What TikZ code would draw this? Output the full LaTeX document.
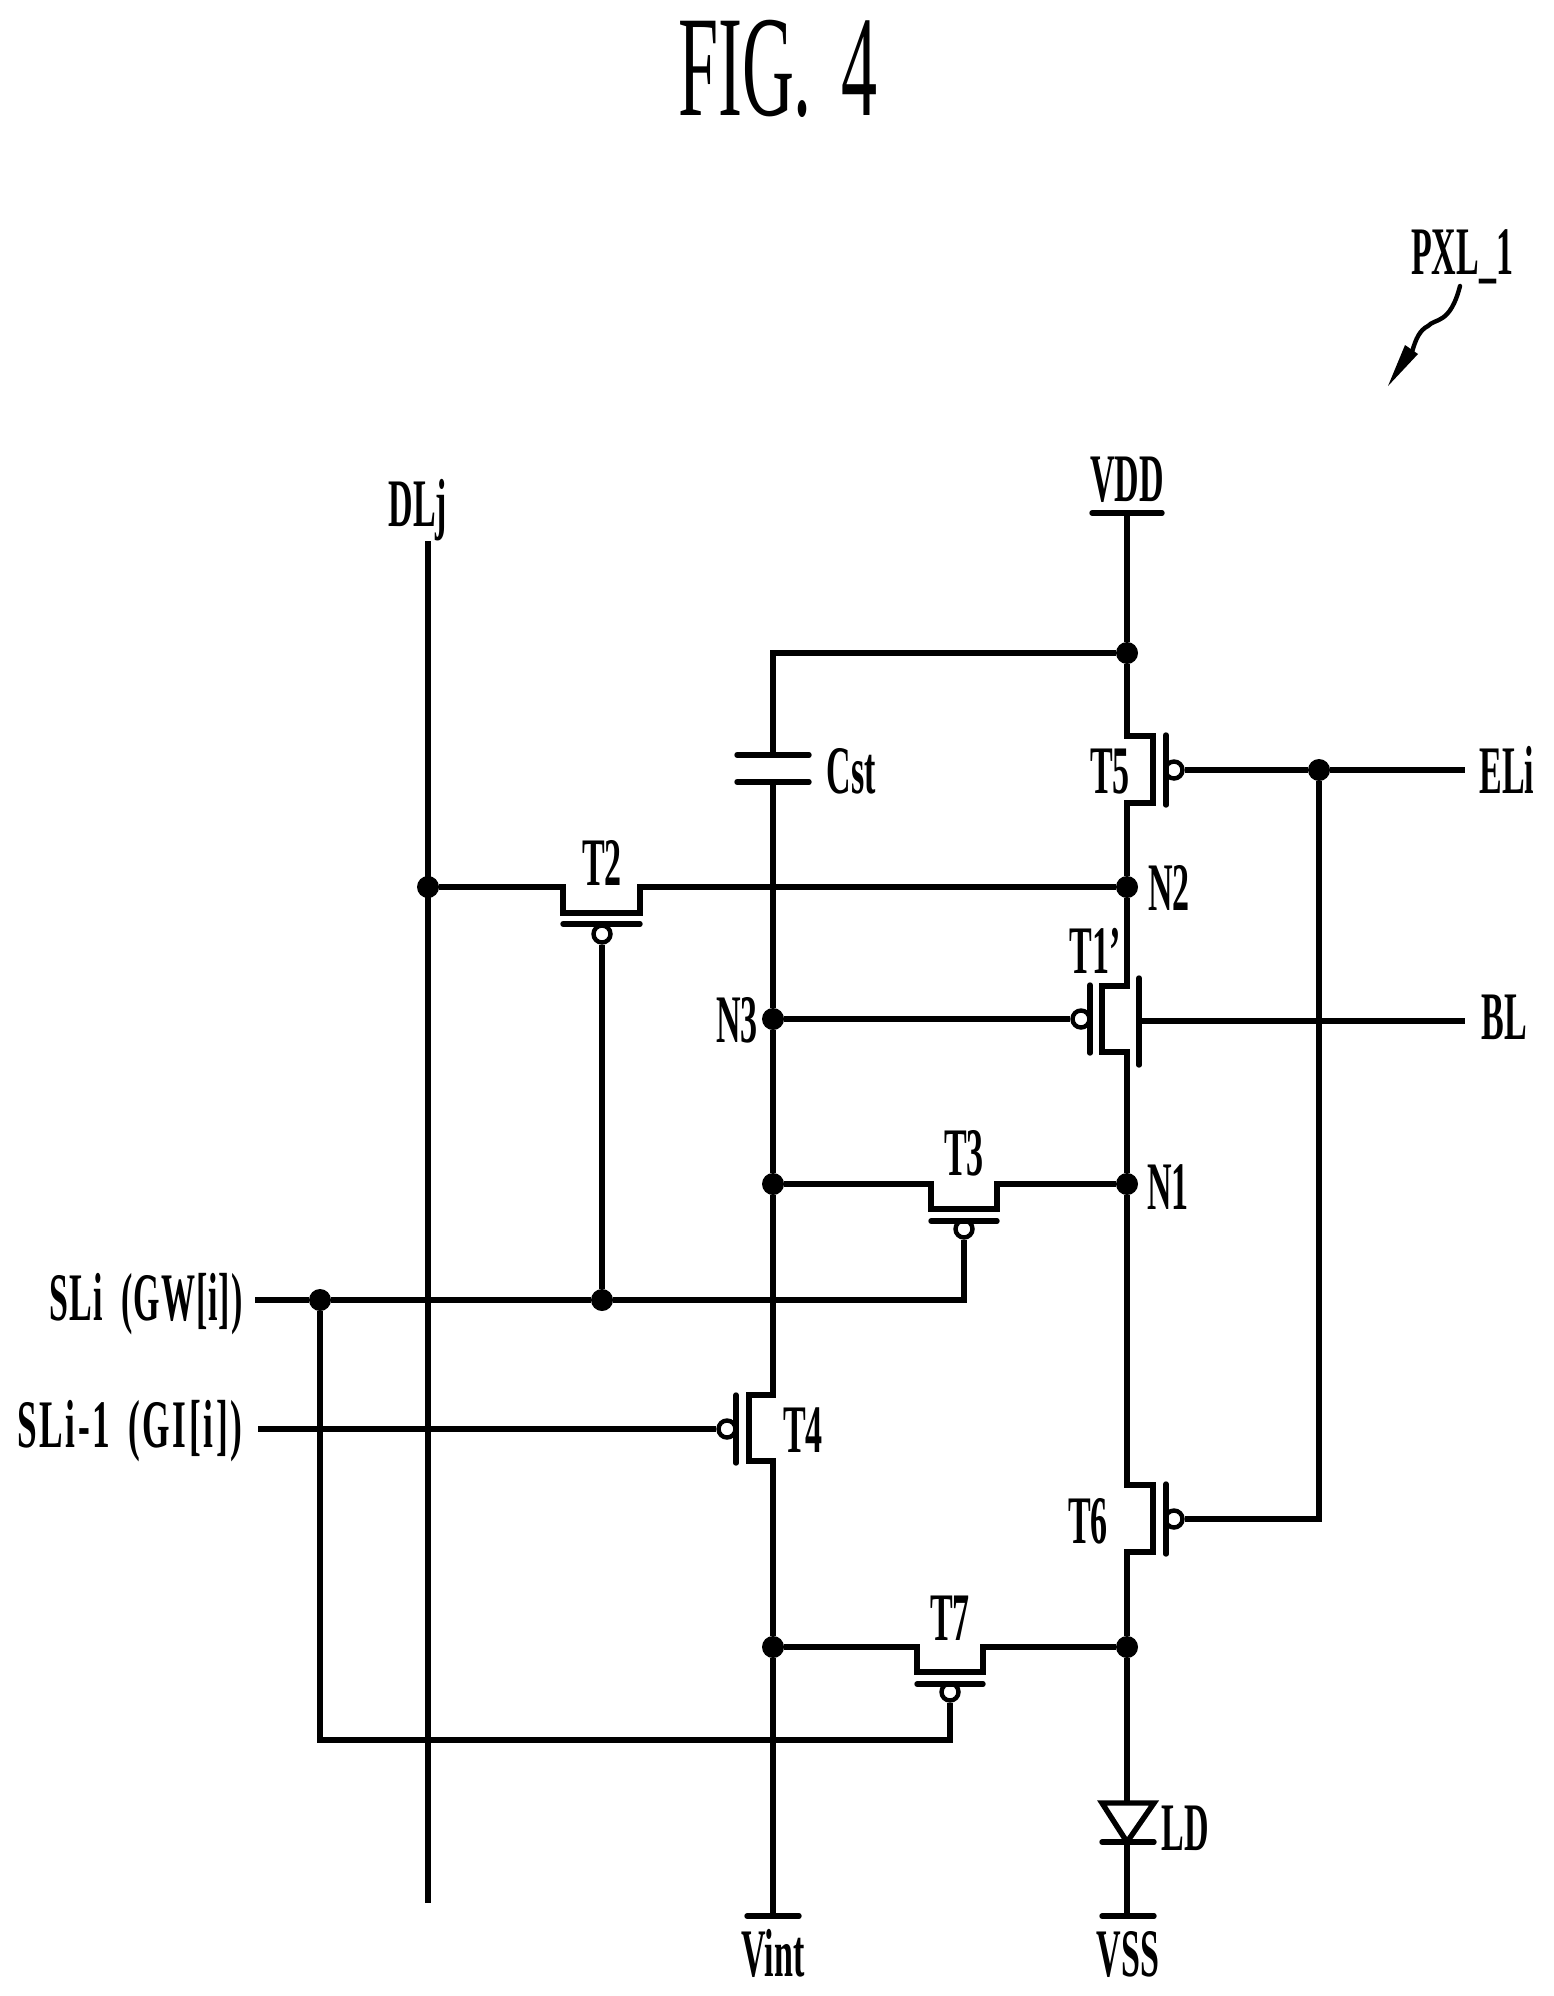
\documentclass[tikz,border=0pt]{standalone}
\usepackage{fontspec}
\newfontfamily\pat[FakeStretch=.5,Ligatures=TeX]{Liberation Serif}
\newfontfamily\patwide[FakeStretch=.52,LetterSpace=4,Ligatures=TeX]{Liberation Serif}
\newfontfamily\patmid[FakeStretch=.5,LetterSpace=1.5,Ligatures=TeX]{Liberation Serif}
\tikzset{
  x=.5pt,y=-.5pt,
  wire/.style={line width=2.7pt,line cap=butt,line join=miter},
  bar/.style={line width=2.7pt,line cap=round},
  dot/.style={circle,fill=black,inner sep=0pt,minimum size=11pt},
  bub/.style={circle,draw,line width=2.2pt,fill=white,inner sep=0pt,minimum size=8.5pt},
  lbl/.style={font=\pat\bfseries\fontsize{34}{34}\selectfont,inner sep=0pt,text height=23pt,text depth=0pt,anchor=center},
  lblw/.style={font=\patwide\bfseries\fontsize{34}{34}\selectfont,inner sep=0pt,text height=23pt,text depth=0pt,anchor=east},
  lblm/.style={font=\patmid\bfseries\fontsize{34}{34}\selectfont,inner sep=0pt,text height=23pt,text depth=0pt,anchor=east},
  ttl/.style={font=\pat\fontsize{72}{72}\selectfont,inner sep=0pt,text height=47.5pt,text depth=0pt,anchor=center}
}
\begin{document}
\begin{tikzpicture}
\useasboundingbox (0,0) rectangle (1553,1996);
% junctions
\node[dot] (jtop) at (1127,653) {};
\node[dot] (n2) at (1127,887) {};
\node[dot] (n1) at (1127,1184) {};
\node[dot] (j7r) at (1127,1647) {};
\node[dot] (n3) at (773,1019) {};
\node[dot] (j3l) at (773,1184) {};
\node[dot] (j7l) at (773,1647) {};
\node[dot] (jdl) at (428,887) {};
\node[dot] (jsl) at (320,1300) {};
\node[dot] (jt2) at (602,1300) {};
\node[dot] (jel) at (1319,770) {};
% terminals
\coordinate (vddb) at (1127,513);
\coordinate (vintb) at (773,1916);
\coordinate (vssb) at (1127,1916);
\coordinate (dltop) at (428,541);
\coordinate (dlbot) at (428,1903);
\coordinate (eliend) at (1465,770);
\coordinate (blend) at (1465,1021);
\coordinate (sliend) at (255,1300);
\coordinate (sl1end) at (258,1429);
\coordinate (capt) at (773,755);
\coordinate (capb) at (773,782);
\coordinate (ldt) at (1127,1803);
\coordinate (ldb) at (1127,1842);
% bubbles
\node[bub] (b5) at (1174,770) {};
\node[bub] (b6) at (1174,1519) {};
\node[bub] (b1) at (1081,1019) {};
\node[bub] (b4) at (727,1429) {};
\node[bub] (b2) at (602,934) {};
\node[bub] (b3) at (964,1229) {};
\node[bub] (b7) at (950,1692) {};
% rails
\draw[wire] (vddb) -- (jtop);
\draw[wire] (jtop) -- (1127,736) -- (1153,736) -- (1153,803) -- (1127,803) -- (n2);
\draw[wire] (n2) -- (1127,986) -- (1102,986) -- (1102,1052) -- (1127,1052) -- (n1);
\draw[wire] (n1) -- (1127,1485) -- (1153,1485) -- (1153,1552) -- (1127,1552) -- (j7r);
\draw[wire] (j7r) -- (ldt);
\draw[wire] (ldb) -- (vssb);
\draw[wire] (jtop) -- (773,653) -- (capt);
\draw[wire] (capb) -- (n3);
\draw[wire] (n3) -- (j3l);
\draw[wire] (j3l) -- (773,1395) -- (749,1395) -- (749,1461) -- (773,1461) -- (j7l);
\draw[wire] (j7l) -- (vintb);
\draw[wire] (dltop) -- (dlbot);
% T2
\draw[wire] (jdl) -- (563,887) -- (563,913) -- (640,913) -- (640,887) -- (n2);
\draw[bar] (563,924) -- (640,924);
\draw[wire] (b2) -- (jt2);
% T3
\draw[wire] (j3l) -- (931,1184) -- (931,1209) -- (997,1209) -- (997,1184) -- (n1);
\draw[bar] (931,1221) -- (997,1221);
\draw[wire] (b3) -- (964,1300) -- (jt2);
% T7
\draw[wire] (j7l) -- (917,1647) -- (917,1672) -- (983,1672) -- (983,1647) -- (j7r);
\draw[bar] (917,1684) -- (983,1684);
\draw[wire] (b7) -- (950,1740) -- (320,1740) -- (jsl);
% scan lines
\draw[wire] (sliend) -- (jsl);
\draw[wire] (jsl) -- (jt2);
\draw[wire] (sl1end) -- (b4);
\draw[bar] (736,1395) -- (736,1463);
% T5 T6 gates
\draw[bar] (1166,735) -- (1166,805);
\draw[bar] (1166,1484) -- (1166,1554);
\draw[wire] (b5) -- (jel);
\draw[wire] (jel) -- (eliend);
\draw[wire] (jel) -- (1319,1519) -- (b6);
% T1'
\draw[bar] (1090,985) -- (1090,1053);
\draw[bar] (1139,978) -- (1139,1065);
\draw[wire] (n3) -- (b1);
\draw[wire] (1139,1021) -- (blend);
% capacitor
\draw[bar] (737,755) -- (809,755);
\draw[bar] (737,782) -- (809,782);
% terminal bars
\draw[bar] (1092,513) -- (1162,513);
\draw[bar] (747,1916) -- (799,1916);
\draw[bar] (1102,1916) -- (1154,1916);
% diode
\draw[wire] (1102,1803) -- (1154,1803) -- (1127,1842) -- cycle;
\draw[bar] (1102,1842) -- (1154,1842);
% labels
\node[ttl] (title) at (778,68) {FIG.\hspace{6pt} 4};
\node[lbl] (pxl) at (1462,251) {PXL\_1};
\node[lbl] (vdd) at (1127,478) {VDD};
\node[lbl] (dlj) at (418,503) {DLj};
\node[lbl] (cst) at (851,770) {Cst};
\node[lbl] (t5) at (1110,770) {T5};
\node[lbl] (eli) at (1507,770) {ELi};
\node[lbl] (n2t) at (1169,887) {N2};
\node[lbl] (t2) at (602,862) {T2};
\node[lbl] (t1) at (1095,950) {T1'};
\node[lbl] (bl) at (1504,1016) {BL};
\node[lbl] (n3t) at (737,1019) {N3};
\node[lbl] (t3) at (964,1152) {T3};
\node[lbl] (n1t) at (1168,1186) {N1};
\node[lblm] (sli) at (243,1297) {SLi\hspace{4.5pt} (GW[i])};
\node[lblw] (sl1) at (243,1424) {SLi-1\hspace{3pt} (GI[i])};
\node[lbl] (t4) at (803,1429) {T4};
\node[lbl] (t6) at (1088,1520) {T6};
\node[lbl] (t7) at (950,1617) {T7};
\node[lbl] (ld) at (1185,1827) {LD};
\node[lbl] (vint) at (773,1953) {Vint};
\node[lbl] (vss) at (1128,1953) {VSS};
% pointer
\coordinate (ps) at (1460,286);
\coordinate (pe) at (1412,352);
\coordinate (ptip) at (1388,386);
\draw[line width=2.2pt,line cap=round] (ps) .. controls (1450,325) and (1435,318) .. (1428,326) .. controls (1420,330) and (1416,338) .. (pe);
\fill (ptip) -- (1405,345) -- (1418,354) -- cycle;
\end{tikzpicture}
\end{document}
